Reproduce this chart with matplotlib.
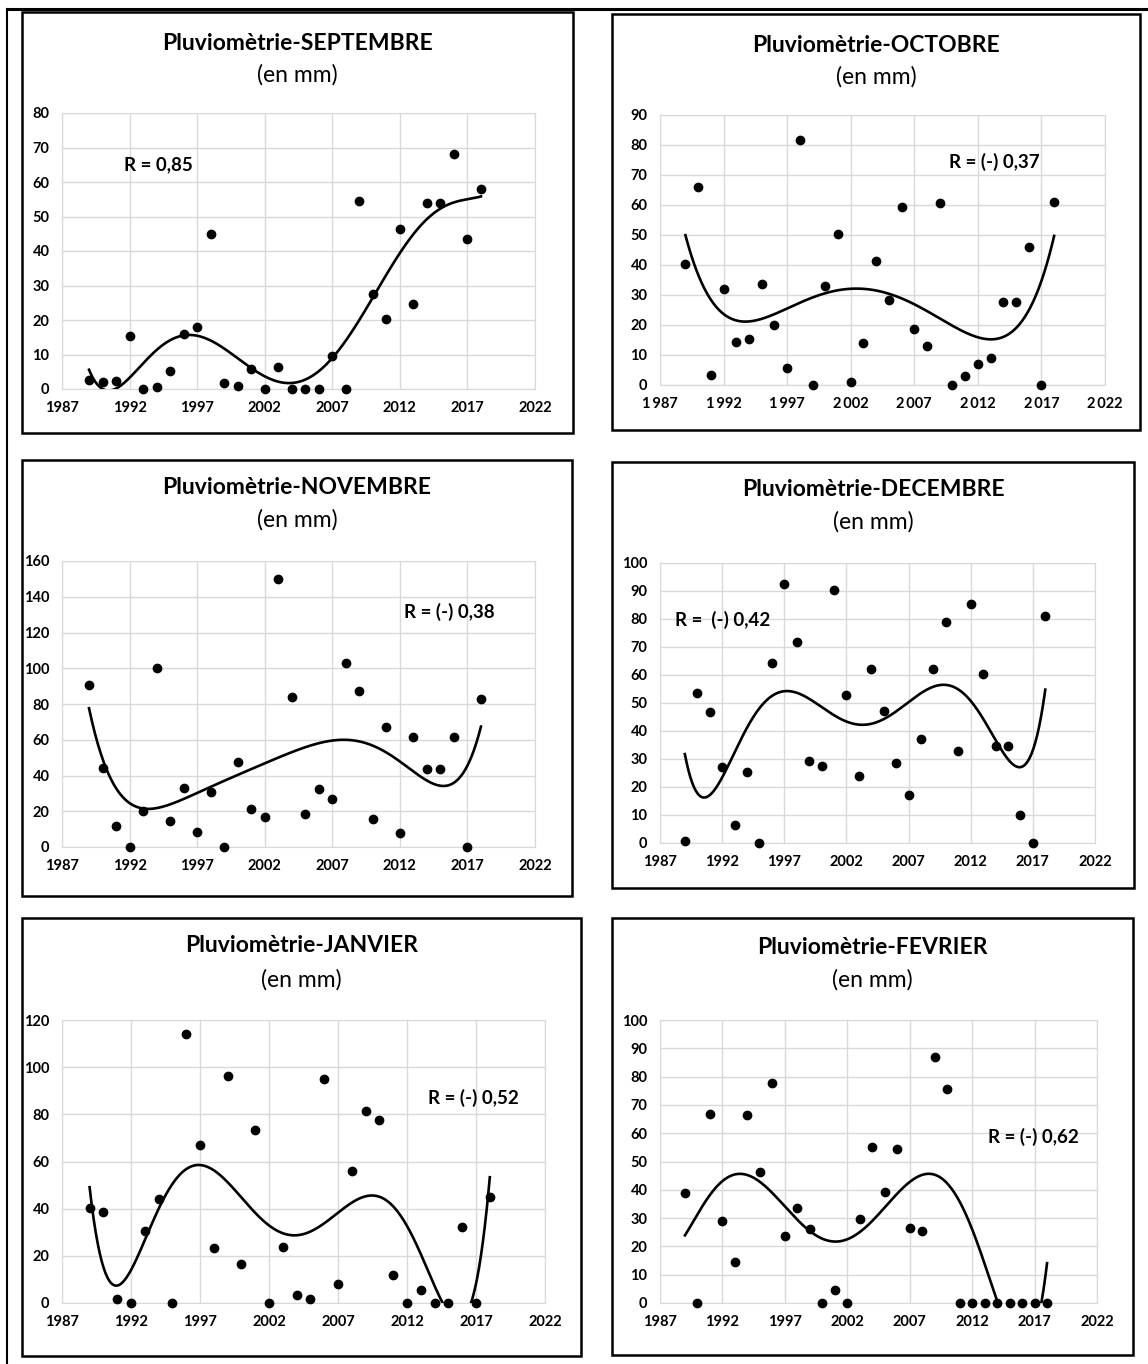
import numpy as np
import matplotlib.pyplot as plt
from matplotlib.patches import Rectangle

plt.rcParams['font.family'] = ['Lato', 'DejaVu Sans']

# Années
annees = np.arange(1989, 2019)

# Pluviométrie mensuelle (mm)
septembre = [2.5, 2, 2.3, 15.5, 0, 0.5, 5.2, 16, 18, 45, 1.8, 1, 5.8, 0, 6.5,
             0, 0, 0, 9.5, 0, 54.5, 27.5, 20.3, 46.5, 24.5, 54, 54, 68, 43.5, 58]
octobre = [40.3, 66, 3.4, 32, 14.4, 15.3, 33.6, 19.9, 5.6, 81.8, 0, 33, 50.2, 1, 14,
           41.2, 28.4, 59.4, 18.6, 13, 60.6, 0, 2.9, 7, 9.1, 27.6, 27.6, 46, 0, 60.9]
novembre = [90.5, 44.2, 11.8, 0, 20.3, 100.4, 14.6, 33, 8.6, 30.8, 0, 47.4, 21.3, 16.6, 149.8,
            84, 18.3, 32.5, 27, 103, 87.1, 15.5, 67, 8, 61.8, 43.7, 43.7, 61.8, 0, 82.8]
decembre = [0.6, 53.6, 46.9, 27.1, 6.5, 25.2, 0, 64.3, 92.4, 71.9, 29.3, 27.4, 90.4, 52.9, 24.1,
            62.2, 47.3, 28.7, 17.1, 37.1, 62.2, 78.9, 32.7, 85.5, 60.2, 34.7, 34.7, 10.1, 0, 81.1]
janvier = [40.1, 38.5, 1.7, 0, 30.7, 43.9, 0, 113.9, 67.2, 23.5, 96.3, 16.7, 73.3, 0, 23.9,
           3.5, 1.7, 94.8, 8, 55.8, 81.3, 77.4, 12, 0, 5.6, 0, 0, 32.3, 0, 45]
fevrier = [38.8, 0, 66.7, 28.9, 14.6, 66.4, 46.2, 77.7, 23.6, 33.6, 26.3, 0, 4.7, 0, 29.6,
           55.1, 39.1, 54.5, 26.6, 25.3, 87, 75.7, 0, 0, 0, 0, 0, 0, 0, 0]

mois = ['SEPTEMBRE', 'OCTOBRE', 'NOVEMBRE', 'DECEMBRE', 'JANVIER', 'FEVRIER']
series = [septembre, octobre, novembre, decembre, janvier, fevrier]
y_max = [80, 90, 160, 100, 120, 100]
y_pas = [10, 10, 20, 10, 20, 10]
r_textes = ['R = 0,85', 'R = (-) 0,37', 'R = (-) 0,38', 'R =  (-) 0,42', 'R = (-) 0,52', 'R = (-) 0,62']
r_pos = [(1991.6, 65), (2009.7, 74.4), (2012.3, 131.5), (1988.2, 79.8), (2013.5, 87), (2013.3, 58.8)]
x_ticks = [1987, 1992, 1997, 2002, 2007, 2012, 2017, 2022]

W, H = 1148, 1364
# cadres (x0, y0, x1, y1) en pixels
cadres = [(22, 12, 573, 433), (612, 14, 1140, 430),
          (22, 460, 572, 896), (612, 462, 1134, 888),
          (22, 918, 581, 1356), (612, 918, 1133, 1355)]
# zone de tracé : x(1987), x(2022), y(haut), y(0)
zones = [(62, 535, 113, 389), (660, 1105, 115, 385),
         (62, 535, 561, 847), (660, 1095, 563, 843),
         (62, 545, 1020, 1303), (660, 1097, 1020, 1303)]
titres_y = [(43, 75), (45, 77), (487, 520), (490, 522), (946, 980), (948, 980)]

fig = plt.figure(figsize=(W / 100, H / 100), dpi=100)

# lignes du tableau
fig.add_artist(plt.Line2D([7 / W, 7 / W], [0, 1 - 9 / H], transform=fig.transFigure, color='black', lw=1.5))
fig.add_artist(plt.Line2D([7 / W, 1], [1 - 9 / H, 1 - 9 / H], transform=fig.transFigure, color='black', lw=2.2))

for i in range(6):
    x0, y0, x1, y1 = cadres[i]
    fig.add_artist(Rectangle((x0 / W, 1 - y1 / H), (x1 - x0) / W, (y1 - y0) / H,
                             transform=fig.transFigure, fill=False, edgecolor='black', lw=1.8))
    cx = (x0 + x1) / 2 / W
    fig.text(cx, 1 - titres_y[i][0] / H, 'Pluviomètrie-' + mois[i], ha='center', va='center',
             fontsize=16.5, fontweight='bold')
    fig.text(cx, 1 - titres_y[i][1] / H, '(en mm)', ha='center', va='center', fontsize=16.5)

    xa, xb, yt, yb = zones[i]
    ax = fig.add_axes([xa / W, 1 - yb / H, (xb - xa) / W, (yb - yt) / H])
    vals = np.array(series[i], dtype=float)

    # tendance polynomiale d'ordre 6
    coef = np.polyfit(annees - 2003, vals, 6)
    xs = np.linspace(1989, 2018, 400)
    ax.plot(xs, np.polyval(coef, xs - 2003), color='black', lw=1.9, zorder=3)
    ax.scatter(annees, vals, s=36, color='black', zorder=4, clip_on=False)

    ax.set_xlim(1987, 2022)
    ax.set_ylim(0, y_max[i])
    ax.set_xticks(x_ticks)
    if i == 1:
        ax.set_xticklabels([f'{t // 1000}\u2009{t % 1000:03d}' for t in x_ticks])
    ax.set_yticks(np.arange(0, y_max[i] + 1, y_pas[i]))
    ax.grid(True, color='#d9d9d9', lw=1)
    ax.set_axisbelow(True)
    for s in ax.spines.values():
        s.set_color('#d9d9d9')
    ax.tick_params(length=0, labelsize=10.5, pad=9)
    for lab in ax.get_xticklabels() + ax.get_yticklabels():
        lab.set_fontweight('bold')

    ax.text(r_pos[i][0], r_pos[i][1], r_textes[i], ha='left', va='center', fontsize=13.5,
            fontweight='bold')

plt.savefig('out.png', dpi=100)
